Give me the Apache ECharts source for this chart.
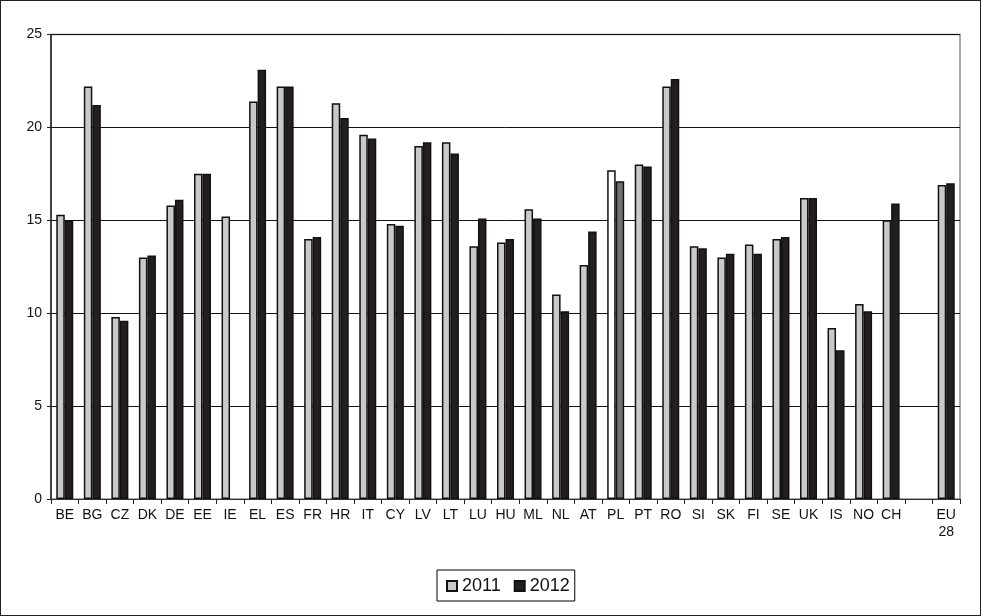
<!DOCTYPE html>
<html>
<head>
<meta charset="utf-8">
<script src="https://cdn.jsdelivr.net/npm/echarts@6/dist/echarts.min.js"></script>
<style>
html,body{margin:0;padding:0;background:#fff;}
#wrap{width:981px;height:616px;box-sizing:border-box;border:1px solid #222;position:relative;}
#chart{position:absolute;left:-1px;top:-1px;width:981px;height:616px;}
</style>
</head>
<body>
<div id="wrap"><div id="chart"></div></div>
<script>
const categories = ['BE','BG','CZ','DK','DE','EE','IE','EL','ES','FR','HR','IT','CY','LV','LT','LU','HU','ML','NL','AT','PL','PT','RO','SI','SK','FI','SE','UK','IS','NO','CH','','EU\n28'];
const values2011 = [15.3,22.2,9.8,13.0,15.8,17.5,15.2,21.4,22.2,14.0,21.3,19.6,14.8,19.0,19.2,13.6,13.8,15.6,11.0,12.6,17.7,18.0,22.2,13.6,13.0,13.7,14.0,16.2,9.2,10.5,15.0,null,16.9];
const values2012 = [15.0,21.2,9.6,13.1,16.1,17.5,null,23.1,22.2,14.1,20.5,19.4,14.7,19.2,18.6,15.1,14.0,15.1,10.1,14.4,17.1,17.9,22.6,13.5,13.2,13.2,14.1,16.2,8.0,10.1,15.9,null,17.0];
const yTicks = {min:0, max:25, interval:5};
const seriesNames = ['2011','2012'];
const specialCategory = 'PL';

const font = 'Liberation Sans, Arial, sans-serif';
const chart = echarts.init(document.getElementById('chart'));

function buildData(vals, specialColor){
  return vals.map((v,i)=>{
    if (v === null) return '-';
    if (categories[i] === specialCategory) return {value:v, itemStyle:{color:specialColor}};
    return v;
  });
}

chart.setOption({
  animation:false,
  backgroundColor:'transparent',
  textStyle:{fontFamily:font},
  grid:{left:51, right:21, top:34.5, bottom:117, show:true, borderColor:'#8c8c8c', borderWidth:1.5, backgroundColor:'transparent'},
  legend:{
    left:437, top:570,
    data:seriesNames,
    icon:'rect', itemWidth:10, itemHeight:10, itemGap:13,
    borderColor:'#000', borderWidth:1, padding:[7,5,6,9],
    textStyle:{fontSize:18, color:'#111', fontFamily:font}
  },
  xAxis:{
    type:'category', data:categories,
    axisLine:{lineStyle:{color:'#333', width:1}},
    axisTick:{show:true, length:5, lineStyle:{color:'#222'}},
    axisLabel:{interval:0, fontSize:14, color:'#111', margin:8, lineHeight:17, fontFamily:font}
  },
  yAxis:{
    type:'value', min:yTicks.min, max:yTicks.max, interval:yTicks.interval,
    axisLine:{show:true, lineStyle:{color:'#222', width:1.5}},
    axisTick:{show:true, length:4, lineStyle:{color:'#222'}},
    axisLabel:{fontSize:14, color:'#111', margin:9, fontFamily:font},
    splitLine:{show:true, lineStyle:{color:'#111', width:1}}
  },
  series:[
    {name:seriesNames[0], type:'bar', data:buildData(values2011,'#ffffff'), barWidth:8.5, barGap:'0%',
     itemStyle:{color:'#c9c9c9', borderColor:'#111', borderWidth:1.5}},
    {name:seriesNames[1], type:'bar', data:buildData(values2012,'#707070'), barWidth:8.5, barGap:'0%',
     itemStyle:{color:'#231f20', borderColor:'#111', borderWidth:1.5}}
  ]
});
</script>
</body>
</html>
